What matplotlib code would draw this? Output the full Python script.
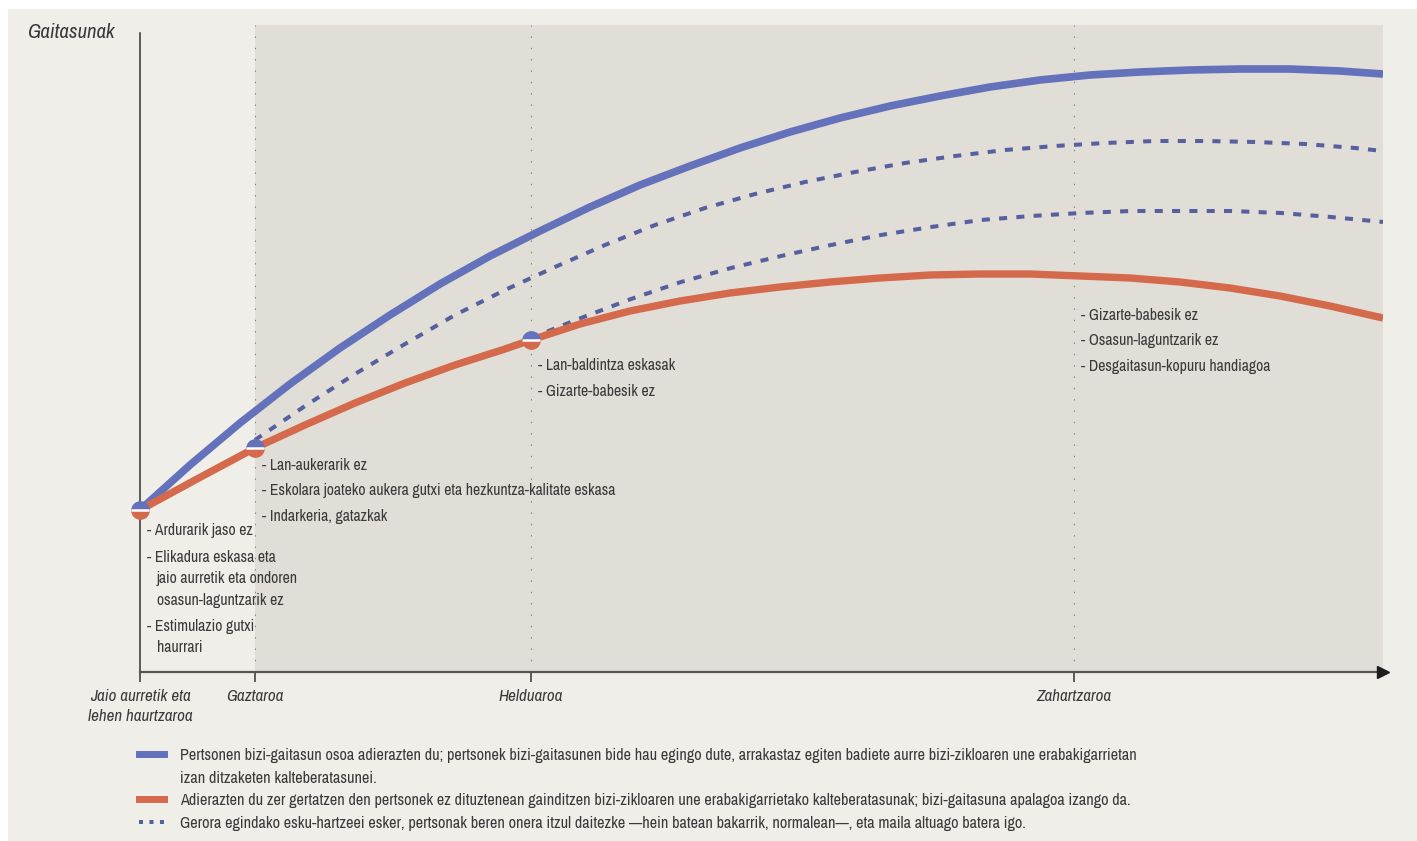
import matplotlib
matplotlib.use('Agg')
import matplotlib.pyplot as plt
from matplotlib import font_manager
from matplotlib.lines import Line2D
from matplotlib.patches import Rectangle

# buscar una fuente estrecha (la original es condensada)
entries = font_manager.fontManager.ttflist
names = {f.name for f in entries}
narrow = [n for n in sorted(names)
          if ('Condensed' in n or 'Narrow' in n) and 'Serif' not in n and 'Mono' not in n]
stretch = 'normal'
if 'Liberation Sans Narrow' in narrow:
    family = 'Liberation Sans Narrow'
elif narrow:
    family = narrow[0]
elif any(f.name == 'DejaVu Sans' and str(f.stretch).startswith('condensed') for f in entries):
    family, stretch = 'DejaVu Sans', 'condensed'
elif 'Roboto' in names:
    family = 'Roboto'
else:
    family = 'DejaVu Sans'
plt.rcParams['font.family'] = [family, 'DejaVu Sans']
plt.rcParams['font.stretch'] = stretch

# etapas del ciclo de vida (eje x)
stage_x = [0, 115, 391, 934]
stage_labels = ['Jaio aurretik eta\nlehen haurtzaroa', 'Gaztaroa', 'Helduaroa', 'Zahartzaroa']

# curvas
blue_x = [0, 50, 100, 150, 200, 250, 300, 350, 400, 450, 500, 550, 600, 650, 700,
          750, 800, 850, 900, 950, 1000, 1050, 1100, 1150, 1200, 1243]
blue_y = [162, 207, 249, 288, 324, 357, 388, 416, 441, 465, 487, 506, 524, 540, 554,
          566, 576, 585, 592, 597, 600, 602, 603, 603, 601, 598]

orange_x = [0, 57, 115, 165, 215, 265, 315, 365, 391, 440, 490, 540, 590, 640, 690,
            740, 790, 840, 890, 940, 990, 1040, 1090, 1140, 1190, 1243]
orange_y = [162, 193, 224, 247, 269, 289, 307, 323, 332, 348, 361, 371, 379, 385, 390,
            394, 397, 398, 398, 396, 394, 390, 384, 376, 366, 354]

dash1_x = [115, 165, 215, 265, 315, 365, 415, 465, 515, 565, 615, 665, 715, 765, 815,
           865, 915, 965, 1015, 1065, 1115, 1165, 1215, 1243]
dash1_y = [232, 266, 298, 328, 357, 382, 405, 427, 447, 464, 478, 490, 500, 509, 516,
           522, 526, 529, 531, 531, 530, 528, 524, 521]

dash2_x = [391, 441, 491, 541, 591, 641, 691, 741, 791, 841, 891, 941, 991, 1041,
           1091, 1141, 1191, 1243]
dash2_y = [334, 354, 373, 390, 404, 416, 427, 437, 445, 452, 456, 459, 461, 461,
           461, 459, 455, 450]

marker_x = [0, 115, 391]
marker_y = [162, 224, 332]

notes = [
    [['- Ardurarik jaso ez'],
     ['- Elikadura eskasa eta', 'jaio aurretik eta ondoren', 'osasun-laguntzarik ez'],
     ['- Estimulazio gutxi', 'haurrari']],
    [['- Lan-aukerarik ez'],
     ['- Eskolara joateko aukera gutxi eta hezkuntza-kalitate eskasa'],
     ['- Indarkeria, gatazkak']],
    [['- Lan-baldintza eskasak'],
     ['- Gizarte-babesik ez']],
    [['- Gizarte-babesik ez'],
     ['- Osasun-laguntzarik ez'],
     ['- Desgaitasun-kopuru handiagoa']],
]
notes_top = [141, 207, 306, 357]

legend_lines = [
    'Pertsonen bizi-gaitasun osoa adierazten du; pertsonek bizi-gaitasunen bide hau egingo dute, '
    'arrakastaz egiten badiete aurre bizi-zikloaren une erabakigarrietan',
    'izan ditzaketen kalteberatasunei.',
    'Adierazten du zer gertatzen den pertsonek ez dituztenean gainditzen bizi-zikloaren une '
    'erabakigarrietako kalteberatasunak; bizi-gaitasuna apalagoa izango da.',
    'Gerora egindako esku-hartzeei esker, pertsonak beren onera itzul daitezke \u2014hein batean bakarrik, '
    'normalean\u2014, eta maila altuago batera igo.',
]

BLUE = '#6372ba'
ORANGE = '#d4694c'
DASH = '#56609f'
TXT = '#3a3a3a'
PANEL = '#efeee9'
SHADE = '#e0ded6'

W, H = 1417, 841
fig = plt.figure(figsize=(W / 100, H / 100), dpi=100)
fig.patch.set_facecolor('white')
renderer = fig.canvas.get_renderer()


def fit(text, target_px, **kw):
    # tamaño de letra para que el texto mida lo mismo que en la referencia
    t = fig.text(0, 0, text, fontsize=10, **kw)
    w = t.get_window_extent(renderer).width
    t.remove()
    return 10 * target_px / w


fs_note = fit(notes[1][1][0], 337) * 1.05
fs_leg = fit(legend_lines[0], 958)
fs_tick = fit('Zahartzaroa', 72, style='italic') * 1.05
fs_title = fit('Gaitasunak', 84, style='italic') * 1.05

fig.add_artist(Rectangle((8 / W, 0), 1 - 8 / W, 1 - 9 / H, transform=fig.transFigure,
                         color=PANEL, zorder=-10))

ax = fig.add_axes([140 / W, (H - 672) / H, (1383 - 140) / W, (672 - 25) / H])
ax.set_facecolor('none')
ax.set_xlim(0, 1243)
ax.set_ylim(0, 647)

ax.axvspan(stage_x[1], 1243, color=SHADE, zorder=0, lw=0)
for x in stage_x[1:]:
    ax.axvline(x, color='#7d7d7d', lw=0.8, ls=(0, (1.2, 9)), zorder=1)

for s in ['top', 'right']:
    ax.spines[s].set_visible(False)
ax.spines['left'].set_bounds(0, 639)
ax.spines['left'].set_color('#333333')
ax.spines['left'].set_linewidth(1.1)
ax.spines['bottom'].set_bounds(0, 1236)
ax.spines['bottom'].set_color('#555555')
ax.spines['bottom'].set_linewidth(1.6)
ax.plot([1243], [0], marker='>', color='#1e1e1e', ms=9, clip_on=False, zorder=5)

ax.set_yticks([])
ax.set_xticks(stage_x)
ax.set_xticklabels(stage_labels, fontsize=fs_tick, style='italic', color=TXT, linespacing=1.45)
ax.tick_params(axis='x', length=7, width=1.1, color='#333333', pad=5)

# curvas
ax.plot(blue_x, blue_y, color=BLUE, lw=5.5, solid_capstyle='butt', solid_joinstyle='round', zorder=4)
ax.plot(orange_x, orange_y, color=ORANGE, lw=5.3, solid_capstyle='butt', solid_joinstyle='round', zorder=4)
ax.plot(dash1_x, dash1_y, color=DASH, lw=2.9, ls=(0, (2, 2.3)), zorder=3)
ax.plot(dash2_x, dash2_y, color=DASH, lw=2.9, ls=(0, (2, 2.3)), zorder=3)

# marcadores de dos colores
ax.plot(marker_x, marker_y, ls='none', marker='o', ms=13.5, fillstyle='top',
        markerfacecolor=BLUE, markerfacecoloralt=ORANGE, markeredgewidth=0, zorder=6, clip_on=False)
ax.plot(marker_x, marker_y, ls='none', marker='_', ms=12.5, mew=1.8, color='white', zorder=7, clip_on=False)

# notas
for sx, top, items in zip(stage_x, notes_top, notes):
    y = top
    for item in items:
        for j, line in enumerate(item):
            ax.text(sx + 7 + (10 if j else 0), y, line, fontsize=fs_note, color=TXT,
                    va='center', ha='left', zorder=8)
            y -= 21.5
        y -= 4.5

fig.text(28 / W, 1 - 32 / H, 'Gaitasunak', fontsize=fs_title, style='italic', color=TXT,
         va='center', ha='left')

# leyenda: una fila por línea de texto, la segunda sin muestra
handles = [
    Line2D([], [], color=BLUE, lw=5),
    Line2D([], [], color='none', lw=0),
    Line2D([], [], color=ORANGE, lw=5),
    Line2D([], [], color=DASH, lw=2.9, ls=(0, (1, 1.6))),
]
fpx = fs_leg * 100 / 72
leg = fig.legend(handles, legend_lines, loc='upper left', bbox_to_anchor=(139 / W, 1 - 748 / H),
                 frameon=False, fontsize=fs_leg, handlelength=25 / fpx, handletextpad=16 / fpx,
                 labelspacing=(26.5 - 1.17 * fpx) / fpx, borderpad=0, borderaxespad=0)
for t in leg.get_texts():
    t.set_color(TXT)

fig.savefig('out.png', dpi=100, facecolor='white')
